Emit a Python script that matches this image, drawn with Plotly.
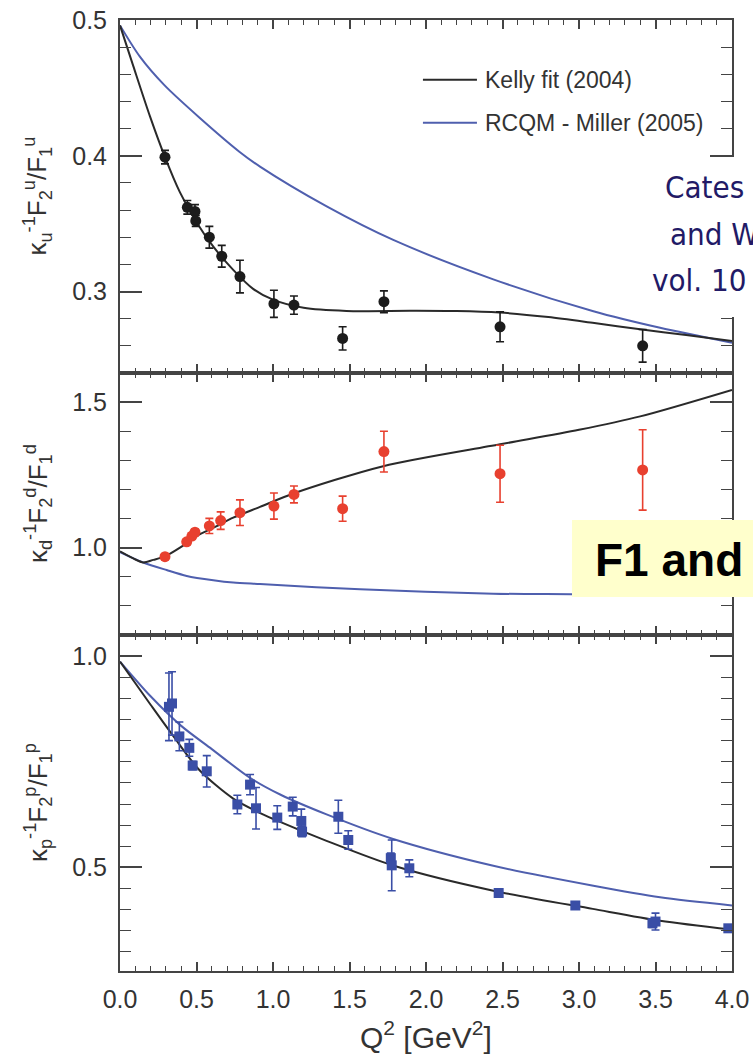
import plotly.graph_objects as go

# ---------------- data ----------------
# top panel: kappa_u^-1 F2^u/F1^u
kelly_u_x = [0, 0.087, 0.196, 0.294, 0.392, 0.5, 0.61, 0.74, 0.87, 1.0, 1.2, 1.48, 1.9, 2.2, 2.48, 2.8, 3.1, 3.4, 3.7, 4.0]
kelly_u_y = [0.496, 0.466, 0.429, 0.399, 0.373, 0.351, 0.333, 0.316, 0.302, 0.294, 0.288, 0.2857, 0.2858, 0.2856, 0.2845, 0.2812, 0.2768, 0.2722, 0.268, 0.2635]
miller_u_x = [0, 0.13, 0.29, 0.52, 0.78, 0.915, 1.351, 1.786, 2.44, 3.094, 3.53, 4.0]
miller_u_y = [0.496, 0.473, 0.452, 0.428, 0.403, 0.392, 0.3627, 0.338, 0.309, 0.2855, 0.2733, 0.2623]
data_u_x = [0.294, 0.44, 0.49, 0.495, 0.584, 0.665, 0.784, 1.006, 1.137, 1.455, 1.725, 2.484, 3.416]
data_u_y = [0.399, 0.362, 0.359, 0.352, 0.340, 0.326, 0.311, 0.291, 0.290, 0.2655, 0.2925, 0.274, 0.260]
data_u_e = [0.005, 0.005, 0.005, 0.004, 0.008, 0.008, 0.012, 0.010, 0.0067, 0.0086, 0.008, 0.011, 0.012]

# middle panel: kappa_d^-1 F2^d/F1^d
kelly_d_x = [0, 0.087, 0.152, 0.218, 0.29, 0.392, 0.5, 0.632, 0.74, 0.915, 1.133, 1.72, 2.484, 3.0, 3.4, 4.0]
kelly_d_y = [0.987, 0.963, 0.949, 0.958, 0.969, 1.0, 1.04, 1.074, 1.103, 1.14, 1.186, 1.28, 1.355, 1.405, 1.451, 1.542]
miller_d_x = [0, 0.152, 0.305, 0.436, 0.61, 0.74, 0.915, 1.569, 2.44, 2.95, 4.0]
miller_d_y = [0.985, 0.949, 0.923, 0.903, 0.888, 0.880, 0.875, 0.857, 0.842, 0.840, 0.836]
data_d_x = [0.294, 0.436, 0.47, 0.49, 0.584, 0.658, 0.784, 1.006, 1.137, 1.455, 1.725, 2.484, 3.416]
data_d_y = [0.969, 1.020, 1.040, 1.053, 1.0745, 1.093, 1.120, 1.143, 1.183, 1.134, 1.330, 1.254, 1.267]
data_d_e = [0.01, 0.01, 0.01, 0.01, 0.026, 0.030, 0.044, 0.045, 0.029, 0.043, 0.070, 0.098, 0.138]

# bottom panel: kappa_p^-1 F2^p/F1^p
kelly_p_x = [0, 0.2, 0.35, 0.52, 0.74, 0.92, 1.0, 1.35, 1.79, 2.44, 3.09, 3.53, 4.0]
kelly_p_y = [0.987, 0.885, 0.81, 0.73, 0.663, 0.628, 0.615, 0.563, 0.504, 0.445, 0.402, 0.374, 0.353]
miller_p_x = [0, 0.2, 0.4, 0.6, 0.85, 1.05, 1.35, 1.78, 2.44, 3.094, 3.53, 4.0]
miller_p_y = [0.987, 0.905, 0.835, 0.78, 0.712, 0.672, 0.6255, 0.568, 0.504, 0.4567, 0.4293, 0.41]
data_p_x = [0.32, 0.34, 0.388, 0.453, 0.475, 0.567, 0.767, 0.85, 0.889, 1.028, 1.129, 1.185, 1.19,
            1.427, 1.492, 1.77, 1.776, 1.891, 2.475, 2.976, 3.48, 3.50, 3.976]
data_p_y = [0.880, 0.888, 0.810, 0.783, 0.741, 0.7275, 0.649, 0.696, 0.640, 0.618, 0.644, 0.610, 0.585,
            0.620, 0.565, 0.522, 0.505, 0.498, 0.4395, 0.410, 0.368, 0.372, 0.356]
data_p_e = [0.080, 0.075, 0.034, 0.020, 0.010, 0.037, 0.022, 0.024, 0.049, 0.028, 0.022, 0.028, 0.012,
            0.039, 0.022, 0.012, 0.060, 0.020, 0.005, 0.005, 0.010, 0.020, 0.005]

x_ticks = [0.0, 0.5, 1.0, 1.5, 2.0, 2.5, 3.0, 3.5, 4.0]

# ---------------- styles ----------------
BLACK = "#2a2a2a"
BLUE = "#4f5fae"
RED = "#e8402f"
SQ = "#3a4ea6"
AX = "#444444"
FONT = "Liberation Sans, Arial, sans-serif"

fig = go.Figure()

panels = [
    ("x", "y", kelly_u_x, kelly_u_y, miller_u_x, miller_u_y, data_u_x, data_u_y, data_u_e, "circle", "#1c1c1c"),
    ("x2", "y2", kelly_d_x, kelly_d_y, miller_d_x, miller_d_y, data_d_x, data_d_y, data_d_e, "circle", RED),
    ("x3", "y3", kelly_p_x, kelly_p_y, miller_p_x, miller_p_y, data_p_x, data_p_y, data_p_e, "square", SQ),
]
for xa, ya, kx, ky, mx, my, dx, dy, de, sym, col in panels:
    fig.add_trace(go.Scatter(x=mx, y=my, xaxis=xa, yaxis=ya, mode="lines",
                             line=dict(color=BLUE, width=2, shape="spline", smoothing=0.8),
                             name="RCQM - Miller (2005)", showlegend=False))
    fig.add_trace(go.Scatter(x=kx, y=ky, xaxis=xa, yaxis=ya, mode="lines",
                             line=dict(color=BLACK, width=2, shape="spline", smoothing=0.8),
                             name="Kelly fit (2004)", showlegend=False))
    fig.add_trace(go.Scatter(x=dx, y=dy, xaxis=xa, yaxis=ya, mode="markers",
                             marker=dict(symbol=sym, size=11 if sym == "circle" else 10, color=col),
                             error_y=dict(type="data", array=de, color=col, thickness=1.6, width=4),
                             showlegend=False, name="data"))

W, H = 753, 1057
L, R, T, B = 120, 21, 20, 86
ph = H - T - B


def py(p):
    return (H - B - p) / ph


def px(p):
    return (p - L) / (W - L - R)


xcommon = dict(range=[0, 4], tickmode="array", tickvals=x_ticks, ticks="inside", ticklen=9, tickwidth=1.6,
               tickcolor=AX, minor=dict(dtick=0.1, tick0=0, ticks="inside", ticklen=5, tickwidth=1.4, tickcolor=AX),
               showline=True, linecolor=AX, linewidth=2, mirror="ticks", showgrid=False, zeroline=False,
               tickformat=".1f", tickfont=dict(family=FONT, size=25, color="#333333"), automargin=False)
ycommon = dict(ticks="inside", ticklen=22, tickwidth=1.6, tickcolor=AX, showline=True, linecolor=AX, linewidth=2,
               mirror="ticks", showgrid=False, zeroline=False, tickformat=".1f", ticklabelstandoff=6,
               tickfont=dict(family=FONT, size=25, color="#333333"), automargin=False)

fig.update_layout(
    width=W, height=H, margin=dict(l=L, r=R, t=T, b=B),
    plot_bgcolor="white", paper_bgcolor="white", showlegend=False,
    xaxis=dict(**xcommon, anchor="y", showticklabels=False),
    xaxis2=dict(**xcommon, anchor="y2", matches="x", showticklabels=False),
    xaxis3=dict(**xcommon, anchor="y3", matches="x", showticklabels=True, ticklabelstandoff=5),
    yaxis=dict(**ycommon, domain=[py(373), 1], range=[0.24, 0.5], dtick=0.1, tick0=0,
               minor=dict(dtick=0.02, tick0=0, ticks="inside", ticklen=11, tickwidth=1.4, tickcolor=AX)),
    yaxis2=dict(**ycommon, domain=[py(635), py(373)], range=[0.7, 1.6], dtick=0.5, tick0=0,
                minor=dict(dtick=0.1, tick0=0, ticks="inside", ticklen=11, tickwidth=1.4, tickcolor=AX)),
    yaxis3=dict(**ycommon, domain=[0, py(635)], range=[0.255, 1.05], dtick=0.5, tick0=0,
                minor=dict(dtick=0.05, tick0=0, ticks="inside", ticklen=11, tickwidth=1.4, tickcolor=AX)),
)

# y-axis titles
ytitles = [
    ("κ<sub>u</sub><sup>-1</sup>F<sub>2</sub><sup>u</sup>/F<sub>1</sub><sup>u</sup>", (20 + 373) / 2),
    ("κ<sub>d</sub><sup>-1</sup>F<sub>2</sub><sup>d</sup>/F<sub>1</sub><sup>d</sup>", (373 + 635) / 2),
    ("κ<sub>p</sub><sup>-1</sup>F<sub>2</sub><sup>p</sup>/F<sub>1</sub><sup>p</sup>", (635 + 971) / 2),
]
for txt, yc in ytitles:
    fig.add_annotation(text=txt, xref="paper", yref="paper", x=px(38), y=py(yc), textangle=-90,
                       showarrow=False, xanchor="center", yanchor="middle",
                       font=dict(family=FONT, size=26, color="#333333"))

# x-axis title
fig.add_annotation(text="Q<sup>2</sup> [GeV<sup>2</sup>]", xref="paper", yref="paper", x=0.5, y=py(1035),
                   showarrow=False, xanchor="center", yanchor="middle",
                   font=dict(family=FONT, size=30, color="#333333"))

# legend (drawn in the top panel)
leg = [("Kelly fit (2004)", BLACK, 0.4559), ("RCQM - Miller (2005)", BLUE, 0.4243)]
for txt, col, yv in leg:
    fig.add_shape(type="line", xref="x", yref="y", x0=1.98, x1=2.333, y0=yv, y1=yv,
                  line=dict(color=col, width=2))
    fig.add_annotation(text=txt, xref="x", yref="y", x=2.373, y=yv, showarrow=False,
                       xanchor="left", yanchor="middle", font=dict(family=FONT, size=23, color="#333333"))

# overlays from the slide: white patch with citation text, yellow box
fig.add_shape(type="rect", xref="paper", yref="paper", x0=px(645), x1=px(760), y0=py(317), y1=py(157),
              fillcolor="white", line=dict(width=0), layer="above")
for txt, xl, yc in [("Cates", 663, 187), ("and W", 668, 234), ("vol. 10", 650, 280)]:
    fig.add_annotation(text=txt, xref="paper", yref="paper", x=px(xl), y=py(yc), showarrow=False,
                       xanchor="left", yanchor="middle",
                       font=dict(family="DejaVu Sans Condensed, DejaVu Sans, sans-serif", size=31, color="#221a66"))
fig.add_shape(type="rect", xref="paper", yref="paper", x0=px(572), x1=px(770), y0=py(597), y1=py(520),
              fillcolor="#ffffcc", line=dict(width=0), layer="above")
fig.add_annotation(text="<b>F1 and</b>", xref="paper", yref="paper", x=px(593), y=py(560), showarrow=False,
                   xanchor="left", yanchor="middle", font=dict(family=FONT, size=46, color="black"))

fig.write_html("out.html")
